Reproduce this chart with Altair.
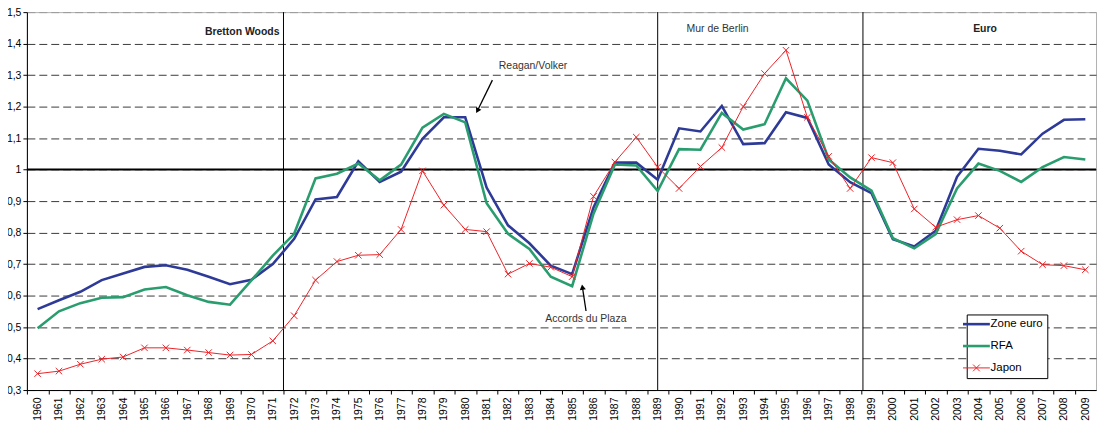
import altair as alt
import pandas as pd

years = list(range(1960, 2010))

zone_euro = [0.557, 0.585, 0.612, 0.649, 0.670, 0.691, 0.696, 0.682, 0.660, 0.636,
             0.650, 0.700, 0.780, 0.905, 0.913, 1.026, 0.961, 0.993, 1.098, 1.166,
             1.166, 0.943, 0.823, 0.766, 0.695, 0.668, 0.880, 1.022, 1.022, 0.968,
             1.131, 1.121, 1.202, 1.081, 1.084, 1.182, 1.164, 1.016, 0.960, 0.925,
             0.779, 0.756, 0.806, 0.977, 1.066, 1.060, 1.048, 1.114, 1.158, 1.160]

rfa = [0.496, 0.550, 0.576, 0.593, 0.595, 0.619, 0.627, 0.601, 0.580, 0.571,
       0.648, 0.727, 0.796, 0.972, 0.987, 1.019, 0.966, 1.016, 1.133, 1.177,
       1.150, 0.893, 0.796, 0.748, 0.660, 0.630, 0.860, 1.016, 1.013, 0.932,
       1.065, 1.063, 1.180, 1.127, 1.144, 1.290, 1.219, 1.032, 0.975, 0.933,
       0.782, 0.750, 0.795, 0.940, 1.019, 0.996, 0.961, 1.008, 1.040, 1.032]

japon = [0.352, 0.360, 0.382, 0.398, 0.405, 0.434, 0.434, 0.427, 0.419, 0.411,
         0.413, 0.456, 0.536, 0.649, 0.708, 0.728, 0.730, 0.810, 0.996, 0.887,
         0.810, 0.803, 0.668, 0.702, 0.690, 0.660, 0.915, 1.024, 1.103, 1.008,
         0.940, 1.010, 1.070, 1.200, 1.305, 1.379, 1.166, 1.042, 0.940, 1.038,
         1.022, 0.875, 0.817, 0.841, 0.854, 0.814, 0.741, 0.698, 0.695, 0.682]

series_names = ["Zone euro", "RFA", "Japon"]
series_colors = ["#2E3A97", "#2A9D6F", "#EC2227"]
legend_shapes = ["M-1,0H1", "M-1,0H1",
                 "M-1,0H1M-0.25,-0.25L0.25,0.25M-0.25,0.25L0.25,-0.25"]
cross_shape = "M-1,-1L1,1M-1,1L1,-1"

separators = [1971.5, 1989.0, 1998.6]
reference_level = [1.0]
y_ticks = [round(0.3 + 0.1 * i, 1) for i in range(13)]

ann_text = ["Bretton Woods", "Mur de Berlin", "Euro", "Reagan/Volker", "Accords du Plaza"]
ann_year = [1969.57, 1991.80, 2004.31, 1983.17, 1985.64]
ann_value = [1.437, 1.446, 1.446, 1.329, 0.524]
ann_bold = [True, False, True, False, False]

arrow_year_start = [1981.27, 1985.65]
arrow_value_start = [1.284, 0.551]
arrow_year_end = [1980.57, 1985.48]
arrow_value_end = [1.187, 0.627]
arrow_angle = [208, 351]

rows = []
for name, vals in zip(series_names, [zone_euro, rfa, japon]):
    for yr, v in zip(years, vals):
        rows.append({"year": yr, "series": name, "value": v})
df = pd.DataFrame(rows)

ann_df = pd.DataFrame({"year": ann_year, "value": ann_value, "text": ann_text, "bold": ann_bold})
arrow_df = pd.DataFrame({"x": arrow_year_start, "y": arrow_value_start,
                         "x2": arrow_year_end, "y2": arrow_value_end, "angle": arrow_angle})
sep_df = pd.DataFrame({"year": separators})
ref_df = pd.DataFrame({"value": reference_level})

xscale = alt.Scale(domain=[1959.5, 2009.5], nice=False, zero=False)
yscale = alt.Scale(domain=[0.3, 1.5], nice=False, zero=False)

band = 1075 / 50.0

x_axis = alt.Axis(values=years, tickCount=200, format="d", labelAngle=270, labelFontSize=10.5,
                  labelColor="black", tickOffset=-band / 2, labelOffset=band / 2, ticks=True,
                  tickSize=4, tickColor="black", domainColor="black", labelPadding=3, title=None,
                  grid=False, labelOverlap=False, labelFlush=False)
y_axis = alt.Axis(values=y_ticks, tickCount=100, title=None, labelFontSize=10.5, labelColor="black",
                  tickSize=4, tickColor="black", domainColor="black", labelPadding=2,
                  labelOverlap=False, labelFlush=False,
                  grid=True, gridDash=[8, 4], gridWidth=1,
                  gridColor={"condition": {"test": "datum.value > 1.45", "value": "#9a9a9a"},
                             "value": "#3a3a3a"},
                  labelExpr="abs(datum.value - 1) < 0.001 ? '1' : replace(format(datum.value, '.1f'), '.', ',')")

color_scale = alt.Scale(domain=series_names, range=series_colors)
shape_scale = alt.Scale(domain=series_names, range=legend_shapes)

leg = alt.Legend(title=None, orient="none", legendX=945, legendY=304, direction="vertical",
                 fillColor="white", strokeColor="black", padding=4, symbolSize=729,
                 labelFontSize=11.5, labelColor="black", rowPadding=9, labelOffset=8.5,
                 symbolOffset=0, symbolFillColor="transparent",
                 symbolStrokeWidth={"expr": "datum.value == 'Japon' ? 1 : 2.6"})

base = alt.Chart(df)

thick_lines = base.transform_filter(alt.datum.series != "Japon").mark_line(strokeWidth=2.6).encode(
    x=alt.X("year:Q", scale=xscale, axis=x_axis),
    y=alt.Y("value:Q", scale=yscale, axis=y_axis),
    color=alt.Color("series:N", scale=color_scale, legend=leg),
)

thin_line = base.transform_filter(alt.datum.series == "Japon").mark_line(strokeWidth=1).encode(
    x="year:Q", y="value:Q",
    color=alt.Color("series:N", scale=color_scale, legend=leg),
)

markers = base.transform_filter(alt.datum.series == "Japon").mark_point(
    shape=cross_shape, filled=False, size=42, strokeWidth=1, color="#EC2227", opacity=1
).encode(x="year:Q", y="value:Q")

legend_layer = base.transform_filter("false").mark_point(filled=False, opacity=1).encode(
    x="year:Q", y="value:Q",
    color=alt.Color("series:N", scale=color_scale, legend=leg),
    shape=alt.Shape("series:N", scale=shape_scale, legend=leg),
)

seps = alt.Chart(sep_df).mark_rule(color="black", strokeWidth=1).encode(x="year:Q")
ref = alt.Chart(ref_df).mark_rule(color="black", strokeWidth=2).encode(y="value:Q")

texts_bold = alt.Chart(ann_df).transform_filter("datum.bold").mark_text(
    fontSize=10.5, color="#222", fontWeight="bold").encode(
    x="year:Q", y="value:Q", text="text:N")
texts_norm = alt.Chart(ann_df).transform_filter("!datum.bold").mark_text(
    fontSize=10.5, color="#333").encode(
    x="year:Q", y="value:Q", text="text:N")

arrows = alt.Chart(arrow_df).mark_rule(color="black", strokeWidth=1.3).encode(
    x="x:Q", y="y:Q", x2="x2:Q", y2="y2:Q")
heads = alt.Chart(arrow_df).mark_point(shape="triangle-up", filled=True, color="black",
                                        size=38, opacity=1).encode(
    x="x2:Q", y="y2:Q", angle=alt.Angle("angle:Q", scale=None))

chart = alt.layer(ref, seps, thick_lines, thin_line, markers, legend_layer, texts_bold, texts_norm,
                  arrows, heads).properties(
    width=1075, height=380,
    autosize=alt.AutoSizeParams(type="none"),
    padding={"left": 19, "top": 3, "right": 4, "bottom": 33},
).configure(font="Liberation Sans").configure_view(stroke="#b0b0b0", strokeWidth=1)

chart.save("out.html", embed_options={"renderer": "svg", "actions": False})
